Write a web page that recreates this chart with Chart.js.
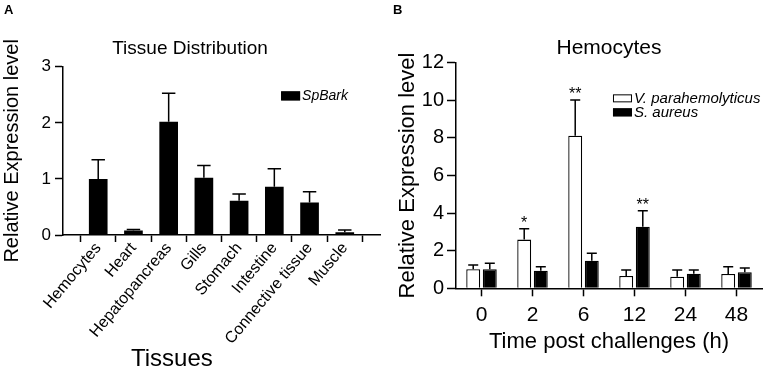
<!DOCTYPE html>
<html>
<head>
<meta charset="utf-8">
<script src="https://cdn.jsdelivr.net/npm/chart.js@4.4.0/dist/chart.umd.min.js"></script>
<style>
  html, body { margin: 0; padding: 0; background: #fff; }
  body { width: 765px; height: 372px; position: relative; overflow: hidden; font-family: "Liberation Sans", Arial, sans-serif; }
  .panel { position: absolute; top: 0; height: 372px; }
  #pa { left: 0; width: 400px; }
  #pb { left: 383px; width: 382px; }
  .tag { position: absolute; top: 2px; font-weight: bold; font-size: 13px; color: #000; }
  .xtitle { position: absolute; font-size: 24px; line-height: 24px; color: #000; }
</style>
</head>
<body>
<div class="panel" id="pa"><canvas id="chartA"></canvas></div>
<div class="panel" id="pb"><canvas id="chartB"></canvas></div>
<div class="tag" style="left:4px">A</div>
<div class="tag" style="left:393px">B</div>
<div class="xtitle" style="left:131px; top:346px">Tissues</div>
<script>
// Panel A: tissue distribution of SpBark
const tissues = ['Hemocytes', 'Heart', 'Hepatopancreas', 'Gills', 'Stomach', 'Intestine', 'Connective tissue', 'Muscle'];
const spBark = [1.00, 0.08, 2.02, 1.02, 0.61, 0.86, 0.58, 0.05];
const spBarkErr = [0.34, 0.02, 0.51, 0.22, 0.12, 0.32, 0.19, 0.04];
const tissueTicks = [0, 1, 2, 3];

// Panel B: hemocytes after challenge
const hours = ['0', '2', '6', '12', '24', '48'];
const vpara = [1.01, 2.59, 8.12, 0.66, 0.62, 0.76];
const vparaErr = [0.23, 0.58, 1.90, 0.32, 0.36, 0.39];
const vparaSig = ['', '*', '**', '', '', ''];
const saureus = [1.01, 0.94, 1.47, 3.28, 0.78, 0.85];
const saureusErr = [0.32, 0.21, 0.39, 0.85, 0.20, 0.23];
const saureusSig = ['', '', '', '**', '', ''];
const hemoTicks = [0, 2, 4, 6, 8, 10, 12];

Chart.defaults.font.family = '"Liberation Sans", Arial, sans-serif';
Chart.defaults.color = '#000';

// one-sided error bars + significance stars
const errorBars = {
  id: 'errorBars',
  afterDatasetsDraw(chart) {
    const ctx = chart.ctx;
    const y = chart.scales.y;
    chart.data.datasets.forEach((ds, di) => {
      if (!ds.err) return;
      const meta = chart.getDatasetMeta(di);
      meta.data.forEach((bar, i) => {
        const v = meta.controller.getParsed(i).y;
        const top = y.getPixelForValue(v + ds.err[i]);
        const cap = bar.width * 0.72;
        ctx.save();
        ctx.strokeStyle = '#000';
        ctx.lineWidth = 1.5;
        ctx.beginPath();
        ctx.moveTo(bar.x, bar.y);
        ctx.lineTo(bar.x, top);
        ctx.moveTo(bar.x - cap / 2, top);
        ctx.lineTo(bar.x + cap / 2, top);
        ctx.stroke();
        if (ds.sig && ds.sig[i]) {
          ctx.fillStyle = '#000';
          ctx.font = '16px "Liberation Sans", Arial, sans-serif';
          ctx.textAlign = 'center';
          ctx.textBaseline = 'bottom';
          ctx.fillText(ds.sig[i], bar.x, top + 3);
        }
        ctx.restore();
      });
    });
  }
};

// small boxed legend inside the plot area
const boxLegend = {
  id: 'boxLegend',
  afterDraw(chart, args, opts) {
    const { ctx, chartArea: a } = chart;
    const x = a.left + opts.x * (a.right - a.left);
    let y = a.top + opts.y * (a.bottom - a.top);
    ctx.save();
    ctx.font = opts.font;
    ctx.textBaseline = 'middle';
    chart.data.datasets.forEach(ds => {
      ctx.fillStyle = ds.backgroundColor;
      ctx.fillRect(x, y - opts.boxH / 2, opts.boxW, opts.boxH);
      ctx.strokeStyle = '#000';
      ctx.lineWidth = 1;
      ctx.strokeRect(x + 0.5, y - opts.boxH / 2 + 0.5, opts.boxW - 1, opts.boxH - 1);
      ctx.fillStyle = '#000';
      ctx.fillText(ds.label, x + opts.boxW + 2, y);
      y += opts.rowGap;
    });
    ctx.restore();
  }
};

const axisLine = { color: '#000', width: 1.5 };

new Chart(document.getElementById('chartA'), {
  type: 'bar',
  data: {
    datasets: [{
      label: 'SpBark',
      data: spBark.map((v, i) => ({ x: i, y: v })),
      err: spBarkErr,
      backgroundColor: '#000',
      borderWidth: 0,
      categoryPercentage: 1,
      barPercentage: 0.53
    }]
  },
  options: {
    responsive: true,
    maintainAspectRatio: false,
    animation: false,
    layout: { padding: { left: 0, right: 20, top: 0, bottom: 0 } },
    plugins: {
      legend: { display: false },
      tooltip: { enabled: false },
      title: {
        display: true, text: 'Tissue Distribution', color: '#000',
        font: { size: 19, weight: 'normal', lineHeight: 1.2 },
        padding: { top: 37, bottom: 7 }
      },
      boxLegend: { x: 0.688, y: 0.173, boxW: 19, boxH: 9, rowGap: 14, font: 'italic 14px "Liberation Sans", Arial, sans-serif' }
    },
    scales: {
      x: {
        type: 'linear', min: -1, max: 8, offset: false,
        afterBuildTicks: s => { s.ticks = tissues.map((t, i) => ({ value: i })); },
        grid: { offset: true, drawOnChartArea: false, tickLength: 7, tickColor: '#000', tickWidth: 1.5 },
        border: axisLine,
        ticks: {
          autoSkip: false, maxRotation: 50, minRotation: 50, padding: -3,
          font: { size: 16 }, color: '#000',
          callback: v => tissues[v]
        },
        afterFit: s => { s.height = 137; }
      },
      y: {
        min: 0, max: 3,
        afterBuildTicks: s => { s.ticks = tissueTicks.map(v => ({ value: v })); },
        grid: { drawOnChartArea: false, tickLength: 8, tickColor: '#000', tickWidth: 1.5 },
        border: axisLine,
        ticks: { font: { size: 17 }, color: '#000', padding: 4 },
        title: { display: true, text: 'Relative Expression level', color: '#000', font: { size: 20, lineHeight: 1 }, padding: { top: 2.5, bottom: 0 } },
        afterFit: s => { s.width = 63; }
      }
    }
  },
  plugins: [errorBars, boxLegend]
});

new Chart(document.getElementById('chartB'), {
  type: 'bar',
  data: {
    labels: hours,
    datasets: [{
      label: 'V. parahemolyticus',
      data: vpara, err: vparaErr, sig: vparaSig,
      backgroundColor: '#fff', borderColor: '#000', borderWidth: 1.3,
      categoryPercentage: 0.65, barPercentage: 0.84
    }, {
      label: 'S. aureus',
      data: saureus, err: saureusErr, sig: saureusSig,
      backgroundColor: '#000', borderColor: '#000', borderWidth: 1.3,
      categoryPercentage: 0.65, barPercentage: 0.84
    }]
  },
  options: {
    responsive: true,
    maintainAspectRatio: false,
    animation: false,
    layout: { padding: { left: 0, right: 3, top: 0, bottom: 0 } },
    plugins: {
      legend: { display: false },
      tooltip: { enabled: false },
      title: {
        display: true, text: 'Hemocytes', color: '#000', fullSize: false,
        font: { size: 21, weight: 'normal', lineHeight: 1.2 },
        padding: { top: 35.4, bottom: 2.1 }
      },
      boxLegend: { x: 0.513, y: 0.158, boxW: 19, boxH: 8, rowGap: 14, font: 'italic 15px "Liberation Sans", Arial, sans-serif' }
    },
    scales: {
      x: {
        offset: true,
        grid: { offset: false, drawOnChartArea: false, tickLength: 8, tickColor: '#000', tickWidth: 1.5 },
        border: axisLine,
        ticks: { font: { size: 21 }, color: '#000', padding: 6 },
        title: { display: true, text: 'Time post challenges (h)', color: '#000', font: { size: 22, lineHeight: 1 }, padding: { top: 0, bottom: 19.5 } },
        afterFit: s => { s.height = 83.7; }
      },
      y: {
        min: 0, max: 12,
        afterBuildTicks: s => { s.ticks = hemoTicks.map(v => ({ value: v })); },
        grid: { drawOnChartArea: false, tickLength: 9, tickColor: '#000', tickWidth: 1.5 },
        border: axisLine,
        ticks: { font: { size: 20 }, color: '#000', padding: 3 },
        title: { display: true, text: 'Relative Expression level', color: '#000', font: { size: 22, lineHeight: 1 }, padding: { top: 13.5, bottom: 0 } },
        afterFit: s => { s.width = 73; }
      }
    }
  },
  plugins: [errorBars, boxLegend]
});
</script>
</body>
</html>
